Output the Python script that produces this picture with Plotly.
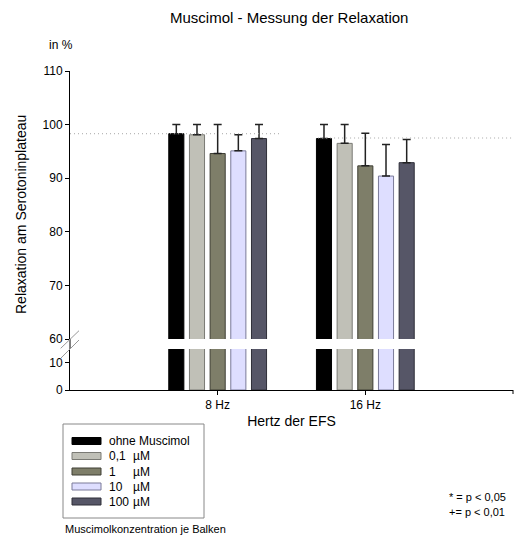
import plotly.graph_objects as go

# ---- data ----
categories = ["8 Hz", "16 Hz"]
cat_pos = [0, 1]
series_names = ["ohne Muscimol", "0,1", "1", "10", "100"]
series_units = ["", "µM", "µM", "µM", "µM"]
values = [
    [98.3, 97.4],
    [98.1, 96.5],
    [94.6, 92.3],
    [95.1, 90.4],
    [97.4, 92.9],
]
errors = [
    [1.7, 2.6],
    [1.9, 3.5],
    [5.4, 6.1],
    [3.0, 5.9],
    [2.6, 4.3],
]
colors = ["#000000", "#C0C0B7", "#7E7E69", "#DEDEFF", "#565667"]
outline = ["#000000", "#7A7A74", "#3E3E34", "#7A7A99", "#2E2E38"]
ref_levels = [98.3, 97.5]
ref_x_from = [-1.0, 0.68]
ref_x_to = [0.43, 2.0]
yticks_top = [60, 70, 80, 90, 100, 110]
yticks_bottom = [0, 10]

FONT = "Liberation Sans, Arial, sans-serif"
W, H = 516, 541
L, R, T, B = 70, 3, 71, 151
PW, PH = W - L - R, H - T - B


def px(x):
    return (x - L) / PW


def py(y):
    return (H - B - y) / PH


top_dom = [py(339), 1]
bot_dom = [0, py(349)]

fig = go.Figure()
for i, name in enumerate(series_names):
    for ax, show_err in (("y", True), ("y2", False)):
        fig.add_trace(go.Bar(
            x=cat_pos, y=values[i], name=name, yaxis=ax,
            xaxis="x2" if ax == "y" else "x",
            marker=dict(color=colors[i], line=dict(color=outline[i], width=1)),
            error_y=dict(type="data", array=errors[i], arrayminus=[0] * len(errors[i]),
                         symmetric=False, visible=show_err, color="#222222",
                         thickness=1.5, width=4),
            showlegend=False, offsetgroup=str(i),
        ))

for lvl, x0, x1 in zip(ref_levels, ref_x_from, ref_x_to):
    fig.add_trace(go.Scatter(x=[x0, x1], y=[lvl, lvl], mode="lines", xaxis="x2", yaxis="y",
                             line=dict(color="#A8A8A8", width=1, dash="1px,3px"),
                             showlegend=False, hoverinfo="skip"))

axis_common = dict(showgrid=False, zeroline=False, linecolor="#000000", linewidth=1,
                   ticks="outside", ticklen=4, tickcolor="#000000",
                   tickfont=dict(family=FONT, size=12, color="#000000"))

fig.update_layout(
    width=W, height=H, margin=dict(l=L, r=R, t=T, b=B),
    paper_bgcolor="white", plot_bgcolor="white",
    barmode="group", bargap=0.30, bargroupgap=0.27,
    font=dict(family=FONT, color="#000000"),
    xaxis=dict(domain=[0, 1], range=[-1, 2], tickvals=cat_pos, ticktext=categories,
               showline=True, anchor="y2", **axis_common,
               title=dict(text="Hertz der EFS", font=dict(family=FONT, size=14), standoff=4)),
    xaxis2=dict(domain=[0, 1], range=[-1, 2], matches="x", showticklabels=False,
                showline=False, showgrid=False, zeroline=False, ticks="", anchor="y"),
    yaxis=dict(domain=top_dom, range=[60, 110], tickvals=yticks_top, showline=True,
               anchor="x2", **axis_common),
    yaxis2=dict(domain=bot_dom, range=[0, 15], tickvals=yticks_bottom, showline=True,
                anchor="x", **axis_common),
)

shapes = []
# axis continuation through the break
shapes.append(dict(type="line", xref="paper", yref="paper", x0=0, x1=0, y0=py(339), y1=py(349),
                   line=dict(color="#000000", width=1)))
# small end tick of x axis
shapes.append(dict(type="line", xref="paper", yref="paper", x0=1, x1=1, y0=0, y1=py(394),
                   line=dict(color="#000000", width=1)))
# break marks
for (xa, ya, xb, yb) in [(60.7, 348.3, 79, 330.7), (60.7, 358.3, 79, 340)]:
    shapes.append(dict(type="line", xref="paper", yref="paper", x0=px(xa), y0=py(ya),
                       x1=px(xb), y1=py(yb), line=dict(color="#999999", width=1)))
# legend box
shapes.append(dict(type="rect", xref="paper", yref="paper", x0=px(63), x1=px(204),
                   y0=py(518), y1=py(424), line=dict(color="#888888", width=1),
                   fillcolor="white"))
row_y = [441, 456, 471.5, 486.5, 501.5]
annotations = []
for i, name in enumerate(series_names):
    yy = row_y[i]
    shapes.append(dict(type="rect", xref="paper", yref="paper", x0=px(72), x1=px(101),
                       y0=py(yy + 3.5), y1=py(yy - 3.5), fillcolor=colors[i],
                       line=dict(color=outline[i], width=1)))
    annotations.append(dict(x=px(107), y=py(yy), xref="paper", yref="paper", text=name,
                            showarrow=False, xanchor="left", yanchor="middle",
                            font=dict(family=FONT, size=12)))
    if series_units[i]:
        annotations.append(dict(x=px(131), y=py(yy), xref="paper", yref="paper",
                                text=series_units[i], showarrow=False, xanchor="left",
                                yanchor="middle", font=dict(family=FONT, size=12)))

texts = [
    ("Muscimol - Messung der Relaxation", 289, 17, "center", 15),
    ("in %", 61, 45, "center", 12),
    ("Muscimolkonzentration je Balken", 63, 529, "left", 11),
    ("* = p < 0,05", 447, 497, "left", 11),
    ("+= p < 0,01", 447, 512, "left", 11),
]
for t, x, y, anc, sz in texts:
    annotations.append(dict(x=px(x), y=py(y), xref="paper", yref="paper", text=t,
                            showarrow=False, xanchor=anc, yanchor="middle",
                            font=dict(family=FONT, size=sz)))
annotations.append(dict(x=px(21), y=py(215), xref="paper", yref="paper",
                        text="Relaxation am Serotoninplateau", textangle=-90,
                        showarrow=False, xanchor="center", yanchor="middle",
                        font=dict(family=FONT, size=14)))

fig.update_layout(shapes=shapes, annotations=annotations)
fig.write_html("out.html")
